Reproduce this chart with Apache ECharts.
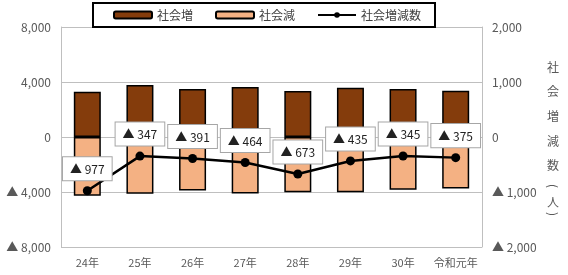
<!DOCTYPE html>
<html>
<head>
<meta charset="utf-8">
<script src="https://cdn.jsdelivr.net/npm/echarts@6/dist/echarts.min.js"></script>
<style>
  html, body { margin: 0; padding: 0; background: #fff; }
  #grafico { width: 568px; height: 275px; }
</style>
</head>
<body>
<div id="grafico"></div>
<script>
// datos
const categorias = ['24年', '25年', '26年', '27年', '28年', '29年', '30年', '令和元年'];
const socialIncrease = [3290, 3780, 3500, 3640, 3350, 3590, 3490, 3370];
const socialDecrease = [-4267, -4127, -3891, -4104, -4023, -4025, -3835, -3745];
const socialNet = [-977, -347, -391, -464, -673, -435, -345, -375];
const leftTicks = [-8000, -4000, 0, 4000, 8000];
const rightTicks = [-2000, -1000, 0, 1000, 2000];
const rightAxisName = ['社', '会', '増', '減', '数', '(', '人', ')'];
// posicion vertical de cada caracter del titulo derecho
const rightAxisNameY = [67, 91, 116, 141, 165, 186, 202, 214];

const FONT = '"Noto Sans CJK JP", sans-serif';

function fmt(v) {
  const s = Math.abs(v).toLocaleString('en-US');
  return v < 0 ? '▲ ' + s : s;
}

document.addEventListener('DOMContentLoaded', function () {
  const chart = echarts.init(document.getElementById('grafico'));

  const opciones = {
    animation: false,
    textStyle: { fontFamily: FONT },
    grid: { left: 61, right: 86, top: 27, bottom: 28 },
    legend: {
      left: 93,
      top: 3,
      padding: [6, 14, 6, 20],
      itemGap: 22,
      itemWidth: 38,
      itemHeight: 7,
      borderColor: '#000',
      borderWidth: 2,
      backgroundColor: '#fff',
      textStyle: { fontFamily: FONT, fontSize: 12, color: '#404040' },
      data: ['社会増', '社会減', '社会増減数']
    },
    xAxis: {
      type: 'category',
      data: categorias,
      axisLine: { show: false },
      axisTick: { show: false },
      axisLabel: { interval: 0, fontSize: 11, color: '#595959', margin: 10, fontFamily: FONT }
    },
    yAxis: [
      {
        type: 'value',
        min: leftTicks[0],
        max: leftTicks[leftTicks.length - 1],
        interval: 4000,
        axisLine: { show: true, lineStyle: { color: '#bfbfbf' } },
        axisTick: { show: false },
        splitLine: { lineStyle: { color: '#bfbfbf' } },
        axisLabel: { formatter: fmt, fontSize: 12, color: '#595959', margin: 10, fontFamily: FONT }
      },
      {
        type: 'value',
        min: rightTicks[0],
        max: rightTicks[rightTicks.length - 1],
        interval: 1000,
        axisLine: { show: true, lineStyle: { color: '#bfbfbf' } },
        axisTick: { show: false },
        splitLine: { show: false },
        axisLabel: { formatter: fmt, fontSize: 12, color: '#595959', margin: 10, fontFamily: FONT }
      }
    ],
    series: [
      {
        name: '社会増',
        type: 'bar',
        data: socialIncrease,
        barWidth: 27,
        barGap: '-100%',
        itemStyle: { color: '#843C0C', borderColor: '#000', borderWidth: 1.5 }
      },
      {
        name: '社会減',
        type: 'bar',
        data: socialDecrease,
        barWidth: 27,
        barGap: '-100%',
        itemStyle: { color: '#F4B183', borderColor: '#000', borderWidth: 1.5 }
      },
      {
        name: '社会増減数',
        type: 'line',
        yAxisIndex: 1,
        data: socialNet,
        symbol: 'circle',
        symbolSize: 9,
        z: 5,
        lineStyle: { color: '#000', width: 2.5 },
        itemStyle: { color: '#000' },
        label: {
          show: true,
          position: 'top',
          distance: 6,
          formatter: function (p) { return fmt(p.value); },
          fontSize: 12,
          color: '#222',
          backgroundColor: '#fff',
          borderColor: '#a6a6a6',
          borderWidth: 1,
          padding: [6, 7, 5, 7],
          fontFamily: FONT
        }
      }
    ],
    // titulo vertical del eje derecho; los parentesis se giran como en texto vertical
    graphic: rightAxisName.map(function (ch, i) {
      const paren = ch === '(' || ch === ')';
      return {
        type: 'text',
        x: 553,
        y: rightAxisNameY[i],
        rotation: paren ? -Math.PI / 2 : 0,
        style: {
          text: ch,
          fill: '#595959',
          font: '12px ' + FONT,
          textAlign: 'center',
          textVerticalAlign: 'middle'
        }
      };
    })
  };

  chart.setOption(opciones);
});
</script>
</body>
</html>
